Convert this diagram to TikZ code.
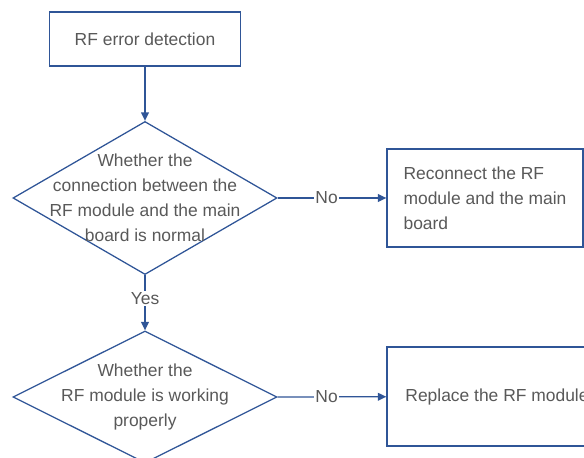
\documentclass[tikz,border=0pt]{standalone}
\usepackage{fontspec}
\setmainfont{Liberation Sans}
\usepackage{tikz}
\usetikzlibrary{arrows.meta, positioning, shapes.geometric}
\definecolor{lineblue}{RGB}{47, 85, 151}
\definecolor{textgray}{RGB}{89, 89, 89}

\tikzset{
  box/.style={draw=lineblue, line width=0.9pt, fill=white, text=textgray, inner sep=0pt},
  decision/.style={draw=lineblue, line width=0.9pt, diamond, inner sep=0pt},
  qtext/.style={text=textgray, align=center, inner sep=0pt},
  flow/.style={draw=lineblue, line width=0.9pt, -{Triangle[length=6pt, width=5.5pt]}},
  lbl/.style={fill=white, text=textgray, inner sep=1pt}
}

\begin{document}
\begin{tikzpicture}[x=0.025cm, y=-0.025cm, font=\fontsize{12.4}{17.8}\selectfont]
                \useasboundingbox (0,0) rectangle (584,458);
                \clip (0,0) rectangle (584,458);
                % Start
                \node[box, minimum width=4.775cm, minimum height=1.35cm] (start) at (145,39) {RF error detection};
                % First check
                \node[decision, minimum width=6.6cm, minimum height=3.825cm] (q1) at (145,198) {};
                \node[qtext] (q1text) at (q1) {Whether the\\connection between the\\RF module and the main\\board is normal};
                % Second check
                \node[decision, minimum width=6.6cm, minimum height=3.3cm] (q2) at (145,397) {};
                \node[qtext] (q2text) at (q2) {Whether the\\RF module is working\\properly};
                % Actions
                \node[box, minimum width=4.9cm, minimum height=2.45cm, align=left] (fix1) at (485,198) {Reconnect the RF\\module and the main\\board};
                \node[box, minimum width=5.5cm, minimum height=2.475cm, align=left] (fix2) at (497,396.5) {Replace the RF module};

                \draw[flow] (start) -- (q1);
                \draw[flow] (q1) -- node[lbl, pos=0.42] {Yes} (q2);
                \draw[flow] (q1.east) -- node[lbl, pos=0.45] {No} (fix1);
                \draw[flow] (q2.east) -- node[lbl, pos=0.45] {No} (fix2);
            \end{tikzpicture}
\end{document}
